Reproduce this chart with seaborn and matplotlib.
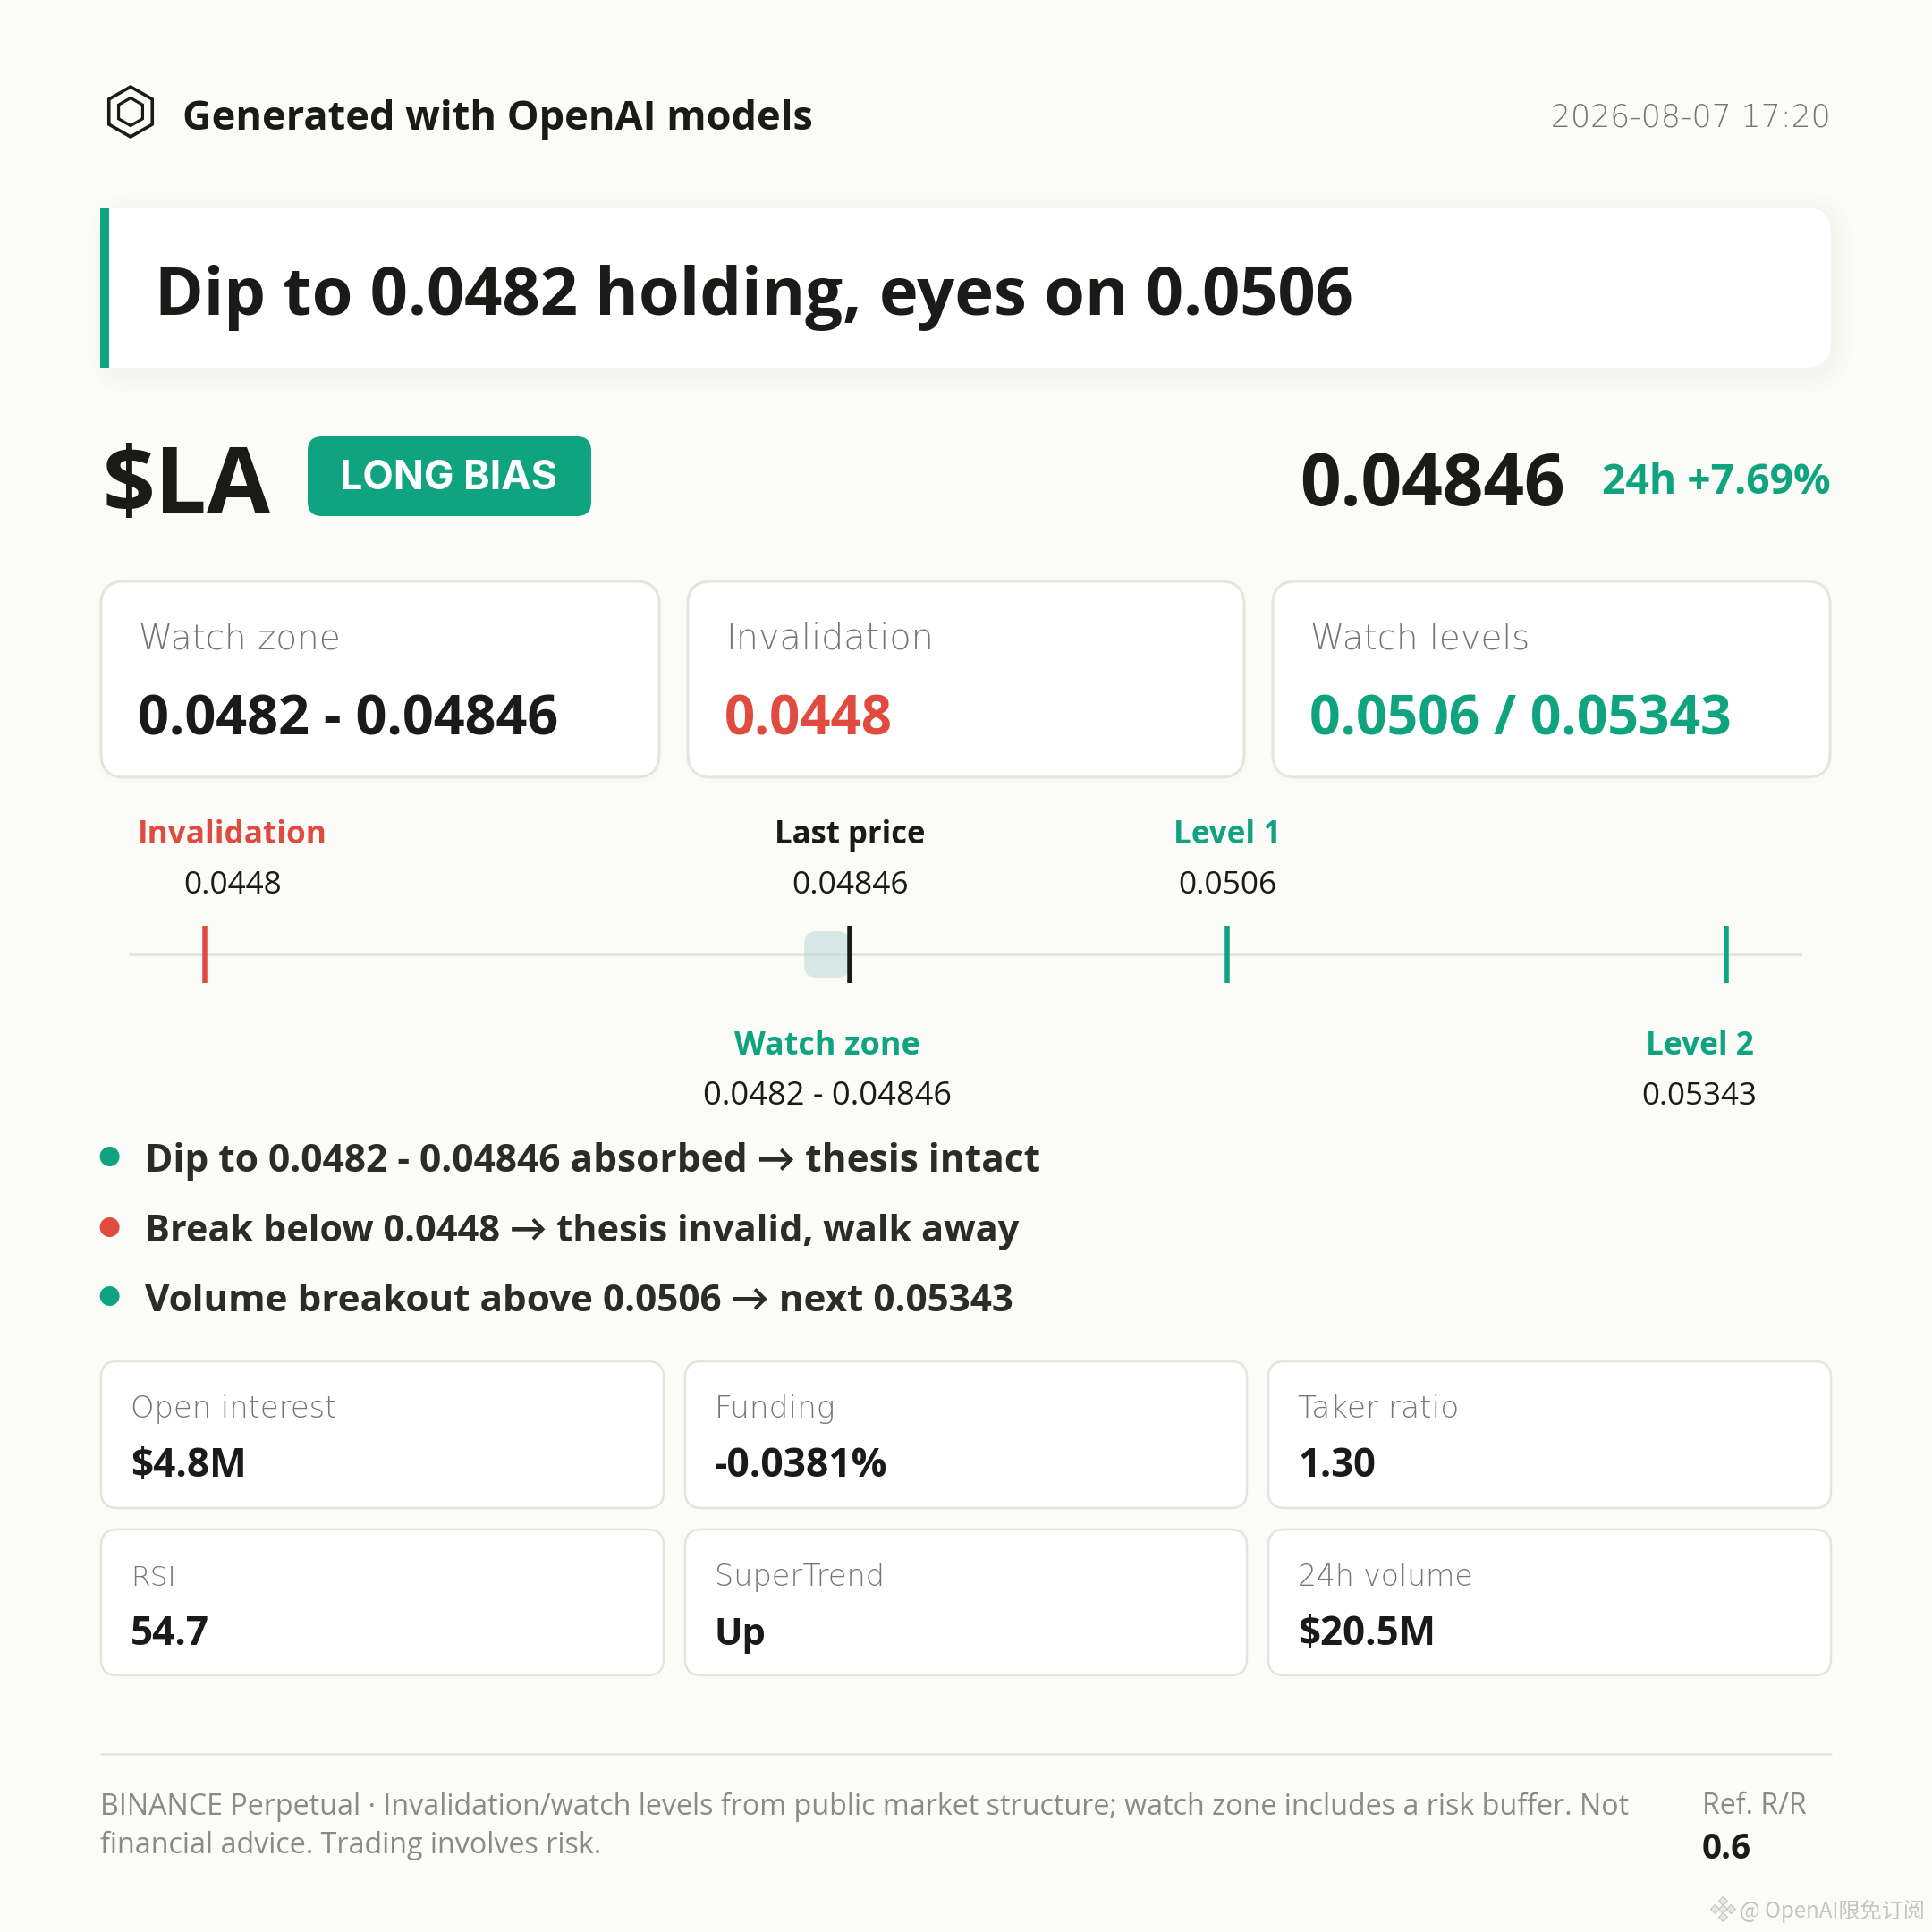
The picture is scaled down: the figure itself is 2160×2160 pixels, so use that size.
# trade card for $LA, drawn on a pixel canvas with the price track as its own axes
import matplotlib
matplotlib.use("Agg")
import matplotlib.pyplot as plt
from matplotlib.patches import FancyBboxPatch, RegularPolygon, Rectangle, Circle
import pandas as pd
import seaborn as sns

# chart data
header_text = "Generated with OpenAI models"
timestamp = "2026-08-07 17:20"
headline = "Dip to 0.0482 holding, eyes on 0.0506"
ticker = "$LA"
bias = "LONG BIAS"
last_text = "0.04846"
change_text = "24h +7.69%"

top_labels = ["Watch zone", "Invalidation", "Watch levels"]
top_values = ["0.0482 - 0.04846", "0.0448", "0.0506 / 0.05343"]

track_names = ["Invalidation", "Last price", "Level 1", "Level 2"]
track_prices = [0.0448, 0.04846, 0.0506, 0.05343]
zone_low = 0.0482
zone_high = 0.04846

bullets = ["Dip to 0.0482 - 0.04846 absorbed → thesis intact",
           "Break below 0.0448 → thesis invalid, walk away",
           "Volume breakout above 0.0506 → next 0.05343"]
bullet_kinds = ["good", "bad", "good"]

stat_labels = ["Open interest", "Funding", "Taker ratio", "RSI", "SuperTrend", "24h volume"]
stat_values = ["$4.8M", "-0.0381%", "1.30", "54.7", "Up", "$20.5M"]

footer_lines = ["BINANCE Perpetual · Invalidation/watch levels from public market structure; watch zone includes a risk buffer. Not",
                "financial advice. Trading involves risk."]
rr_label = "Ref. R/R"
rr_value = "0.6"
watermark = "@ OpenAI限免订阅"

# colours
BG = "#fbfbf8"
INK = "#1a1a18"
INK2 = "#2b2b29"
GREY = "#8b8b86"
GREY2 = "#777772"
GREEN = "#10a37f"
RED = "#e04b3f"
LINE = "#e5e5e0"

SANS = ["Open Sans", "Lato", "DejaVu Sans"]
WIDE = ["DejaVu Sans"]

sns.set_theme(style="white")
plt.rcParams["font.family"] = SANS

DPI = 100
fig = plt.figure(figsize=(21.6, 21.6), dpi=DPI, facecolor=BG)
ax = fig.add_axes([0, 0, 1, 1])
ax.set_xlim(0, 2160)
ax.set_ylim(2160, 0)
ax.axis("off")
renderer = fig.canvas.get_renderer()


# text sized in pixels, if width is given the font size is changed so the text fills it
def put(x, y, s, px, color=INK, weight="normal", ha="left", width=None, family=None):
    t = ax.text(x, y, s, fontsize=px * 72 / DPI, color=color, fontweight=weight, ha=ha,
                va="baseline", family=family or SANS, zorder=5)
    if width:
        w = t.get_window_extent(renderer).width
        t.set_fontsize(t.get_fontsize() * width / w)
    return t


def box(x0, y0, x1, y1, r, face="white", edge="none", lw=0, alpha=1, z=2):
    p = FancyBboxPatch((x0 + r, y0 + r), x1 - x0 - 2 * r, y1 - y0 - 2 * r,
                       boxstyle=f"round,pad={r},rounding_size={r}", fc=face, ec=edge,
                       lw=lw * 72 / DPI, alpha=alpha, zorder=z)
    ax.add_patch(p)
    return p


# header
for radius, lw in [(28, 3.6), (15.5, 3.2)]:
    ax.add_patch(RegularPolygon((146, 125), 6, radius=radius, orientation=0, fc="none", ec=INK,
                                lw=lw * 72 / DPI))
put(204, 145.5, header_text, 46, weight="bold", width=705)
put(2047, 141.5, timestamp, 34, color=GREY2, ha="right", width=312, family=WIDE, weight=200)

# headline card, soft shadow first
for grow, a in [(22, 0.006), (14, 0.007), (7, 0.008)]:
    box(122 - grow, 232 - grow + 6, 2047 + grow, 411 + grow + 6, 28 + grow, face="black", alpha=a, z=1)
box(112, 232, 2047, 411, 28)
ax.add_patch(Rectangle((112, 232), 40, 179, fc="white", ec="none", zorder=2))
ax.add_patch(Rectangle((112, 232), 10, 179, fc=GREEN, ec="none", zorder=3))
put(173, 352, headline, 74, weight="bold", width=1341)

# ticker row
put(115, 573, ticker, 100, weight="bold", width=188)
box(344, 488, 661, 577, 16, face=GREEN)
put(502, 547, bias, 40, color="white", weight="bold", ha="center", width=243, family=["Inter", "DejaVu Sans"])
put(1453, 565, last_text, 84, weight="bold", width=297)
put(2047, 552, change_text, 45, color=GREEN, weight="bold", ha="right", width=256)

# three main cards
card_x = [(113, 737), (769, 1391), (1423, 2046)]
label_w = [226, 233, 246]
value_w = [469, 188, 471]
value_col = [INK, RED, GREEN]
for i in range(3):
    x0, x1 = card_x[i]
    box(x0 - 3, 650, x1 + 3, 875, 26, face="black", alpha=0.006, z=1)
    box(x0, 650, x1, 869, 26, edge=LINE, lw=3)
    put(x0 + 42, 726, top_labels[i], 36, color=GREY2, width=label_w[i], family=WIDE, weight=200)
    put(x0 + 41, 822, top_values[i], 60, color=value_col[i], weight="bold", width=value_w[i])

# price track, same margin of 5% of the range on both sides
price_span = max(track_prices) - min(track_prices)
lo = min(track_prices) - 0.05 * price_span
hi = max(track_prices) + 0.05 * price_span
TRACK_X0, TRACK_X1, TICK_Y0, TICK_Y1 = 144, 2015, 1035, 1099


def price_x(p):
    return TRACK_X0 + (p - lo) / (hi - lo) * (TRACK_X1 - TRACK_X0)


tax = fig.add_axes([TRACK_X0 / 2160, 1 - TICK_Y1 / 2160, (TRACK_X1 - TRACK_X0) / 2160, (TICK_Y1 - TICK_Y0) / 2160])
tax.patch.set_alpha(0)
tax.axhline(0.5, color=LINE, lw=4 * 72 / DPI, zorder=1)

zone_patch = FancyBboxPatch((price_x(zone_low) + 14, 1041 + 14), price_x(zone_high) - price_x(zone_low) - 28, 52 - 28,
                            boxstyle="round,pad=14,rounding_size=14", fc="#b5d6d6", ec="none", alpha=0.5,
                            transform=ax.transData, zorder=2, clip_on=False)
tax.add_patch(zone_patch)

df = pd.DataFrame({"price": track_prices, "name": track_names})
sns.rugplot(data=df, x="price", hue="name", height=1.0, ax=tax, legend=False, linewidth=5.5 * 72 / DPI, zorder=3,
            palette={"Invalidation": RED, "Last price": INK, "Level 1": GREEN, "Level 2": GREEN})
tax.set_xlim(lo, hi)
tax.set_ylim(0, 1)
tax.axis("off")

# labels around the track
put(260, 943, track_names[0], 38, color=RED, weight="bold", ha="center", width=212)
put(260, 999, "0.0448", 38, ha="center", width=110)
put(price_x(track_prices[1]), 943, track_names[1], 38, weight="bold", ha="center", width=169)
put(price_x(track_prices[1]), 999, "0.04846", 38, ha="center", width=131)
put(price_x(track_prices[2]), 943, track_names[2], 38, color=GREEN, weight="bold", ha="center", width=120)
put(price_x(track_prices[2]), 999, "0.0506", 38, ha="center", width=110)
zone_mid = price_x((zone_low + zone_high) / 2)
put(zone_mid, 1179, "Watch zone", 38, color=GREEN, weight="bold", ha="center", width=208)
put(zone_mid, 1235, "0.0482 - 0.04846", 38, ha="center", width=278)
put(1900, 1179, track_names[3], 38, color=GREEN, weight="bold", ha="center", width=121)
put(1900, 1235, "0.05343", 38, ha="center", width=129)

# thesis bullets
dot_y = [1293, 1372, 1449]
text_y = [1310, 1388, 1466]
bullet_w = [1001, 975, 971]
for i, line in enumerate(bullets):
    ax.add_patch(Circle((122.6, dot_y[i]), 11, fc=GREEN if bullet_kinds[i] == "good" else RED, ec="none"))
    put(161.5, text_y[i], line, 44, color=INK2, weight="bold", width=bullet_w[i])

# small stat cards
stat_x = [(113, 742), (766, 1394), (1418, 2047)]
stat_y = [(1522, 1686), (1710, 1873)]
stat_label_w = [231, 135, 180, 51, 190, 196]
stat_value_w = [130, 193, 87, 88, 58, 154]
for i in range(6):
    x0, x1 = stat_x[i % 3]
    y0, y1 = stat_y[i // 3]
    box(x0, y0, x1, y1, 18, edge=LINE, lw=2.5)
    put(x0 + 33, y0 + 63, stat_labels[i], 31, color=GREY2, width=stat_label_w[i], family=WIDE, weight=200)
    put(x0 + 33, y0 + 129, stat_values[i], 46, weight="bold", width=stat_value_w[i])

# footer
ax.plot([113, 2047], [1961, 1961], color=LINE, lw=2.5 * 72 / DPI)
put(112, 2029, footer_lines[0], 33, color=GREY, width=1716)
put(112, 2072, footer_lines[1], 33, color=GREY, width=562)
put(1903, 2028, rr_label, 33, color=GREY, width=117)
put(1903, 2078, rr_value, 38, weight="bold", width=55)

# watermark in the corner
for dx, dy in [(0, -9), (-9, 0), (9, 0), (0, 9), (0, 0)]:
    ax.plot(1926 + dx, 2134 + dy, marker="D", ms=5.5 * 72 / DPI * 1.3, mfc="#e6e6e4", mec="#c4c4c2", mew=0.8)
put(1945, 2144, watermark, 27, color="#c4c4c2", width=207, family=["Noto Sans CJK JP", "DejaVu Sans"])

fig.savefig("out.png", dpi=DPI, facecolor=BG)
